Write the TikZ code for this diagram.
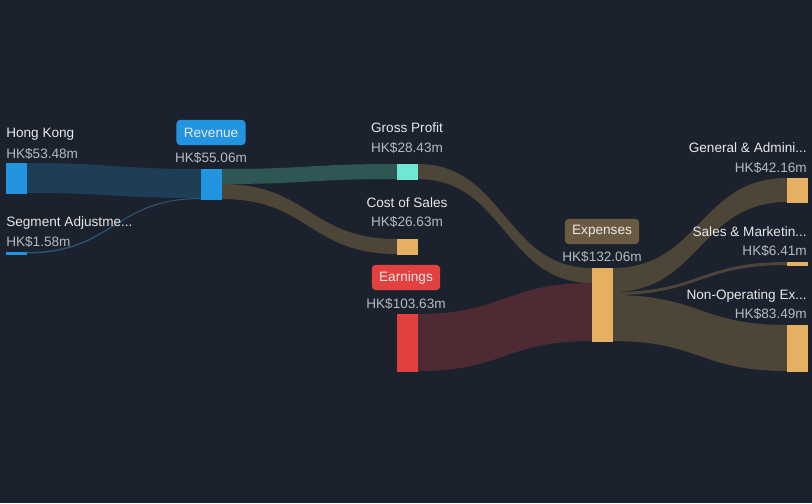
\documentclass[tikz,border=0pt]{standalone}
\usepackage{fontspec}
\setmainfont{Liberation Sans}
\usetikzlibrary{calc}
\definecolor{bg}{HTML}{1B222D}
\definecolor{revblue}{HTML}{2394DF}
\definecolor{hkflow}{HTML}{1E3E58}
\definecolor{segflow}{HTML}{2B5678}
\definecolor{gpteal}{HTML}{6EE8D5}
\definecolor{gpflow}{HTML}{2D5655}
\definecolor{expgold}{HTML}{E5B061}
\definecolor{expflow}{HTML}{4D4538}
\definecolor{earnred}{HTML}{E34040}
\definecolor{earnflow}{HTML}{4E2A33}
\definecolor{exppill}{HTML}{6B5A42}
\definecolor{labelc}{HTML}{E8E8E8}
\definecolor{valuec}{HTML}{B6BAC0}
\tikzset{
  bar/.style={rectangle, inner sep=0, minimum width=15pt, anchor=north west, fill=#1},
  tall/.style={minimum height=#1*0.75pt},
  lbl/.style={inner sep=0, text=labelc, font=\fontsize{10.2}{12}\selectfont},
  val/.style={inner sep=0, text=valuec, font=\fontsize{10.2}{12}\selectfont},
  pill/.style={fill=#1, rounded corners=3pt, inner xsep=5.5pt, minimum height=19pt,
    text=labelc, font=\fontsize{10.2}{12}\selectfont}
}
% band between two bars: from, top, bottom (px below top), to, top, bottom, colour
\newcommand{\band}[7]{%
  \fill[#7] let \p1=(#1.north east), \p2=(#4.north west), \n1={(\x1+\x2)/2} in
    (\x1,\y1-#2*0.75pt) .. controls (\n1,\y1-#2*0.75pt) and (\n1,\y2-#5*0.75pt) .. (\x2,\y2-#5*0.75pt)
    -- (\x2,\y2-#6*0.75pt) .. controls (\n1,\y2-#6*0.75pt) and (\n1,\y1-#3*0.75pt) .. (\x1,\y1-#3*0.75pt)
    -- cycle;}
\begin{document}
\begin{tikzpicture}[x=0.75pt, y=-0.75pt]
  \fill[bg] (0,0) rectangle (812,503);
  \useasboundingbox (0,0) rectangle (812,503);

  % bars
  \node[bar=revblue, tall=30] at (6,163) (hk) {};
  \node[bar=revblue, tall=2] at (6,252) (seg) {};
  \node[bar=revblue, tall=30] at (201,169) (rev) {};
  \node[bar=gpteal, tall=15] at (397,164) (gp) {};
  \node[bar=expgold, tall=15] at (397,239) (cos) {};
  \node[bar=earnred, tall=57] at (397,314) (earn) {};
  \node[bar=expgold, tall=73] at (592,268) (exp) {};
  \node[bar=expgold, tall=24] at (787,178) (gen) {};
  \node[bar=expgold, tall=3] at (787,262) (sal) {};
  \node[bar=expgold, tall=46] at (787,325) (nop) {};

  % flows
  \band{hk}{0}{30}{rev}{0}{29}{hkflow}
  \band{seg}{0}{1.5}{rev}{29}{30}{segflow}
  \band{rev}{0}{15}{gp}{0}{15}{gpflow}
  \band{rev}{15}{30}{cos}{0}{15}{expflow}
  \band{gp}{0}{15}{exp}{0}{15}{expflow}
  \band{earn}{0}{57}{exp}{15}{73}{earnflow}
  \band{exp}{0}{24}{gen}{0}{24}{expflow}
  \band{exp}{24}{27}{sal}{0}{3}{expflow}
  \band{exp}{27}{73}{nop}{0}{46}{expflow}

  % redraw bars on top of the flows
  \foreach \b/\c in {hk/revblue, seg/revblue, rev/revblue, gp/gpteal, cos/expgold,
      earn/earnred, exp/expgold, gen/expgold, sal/expgold, nop/expgold}
    \fill[\c] (\b.north west) rectangle (\b.south east);

  % labels
  \node[lbl, anchor=west] at (6,134) (hkL) {Hong Kong};
  \node[val, anchor=west] at (6,154) (hkV) {HK\$53.48m};
  \node[lbl, anchor=west] at (6,223) (segL) {Segment Adjustme...};
  \node[val, anchor=west] at (6,242) (segV) {HK\$1.58m};
  \node[pill=revblue] at (211,132.5) (revL) {Revenue};
  \node[val] at (211,158) (revV) {HK\$55.06m};
  \node[lbl] at (407,128) (gpL) {Gross Profit};
  \node[val] at (407,148) (gpV) {HK\$28.43m};
  \node[lbl] at (407,203) (cosL) {Cost of Sales};
  \node[val] at (407,222) (cosV) {HK\$26.63m};
  \node[pill=earnred] at (406,277.5) (earnL) {Earnings};
  \node[val] at (406,304) (earnV) {HK\$103.63m};
  \node[pill=exppill] at (602,231.5) (expL) {Expenses};
  \node[val] at (602,257) (expV) {HK\$132.06m};
  \node[lbl, anchor=east] at (807,148) (genL) {General \& Admini...};
  \node[val, anchor=east] at (807,168) (genV) {HK\$42.16m};
  \node[lbl, anchor=east] at (807,232) (salL) {Sales \& Marketin...};
  \node[val, anchor=east] at (807,251) (salV) {HK\$6.41m};
  \node[lbl, anchor=east] at (807,296) (nopL) {Non-Operating Ex...};
  \node[val, anchor=east] at (807,314) (nopV) {HK\$83.49m};
\end{tikzpicture}
\end{document}
